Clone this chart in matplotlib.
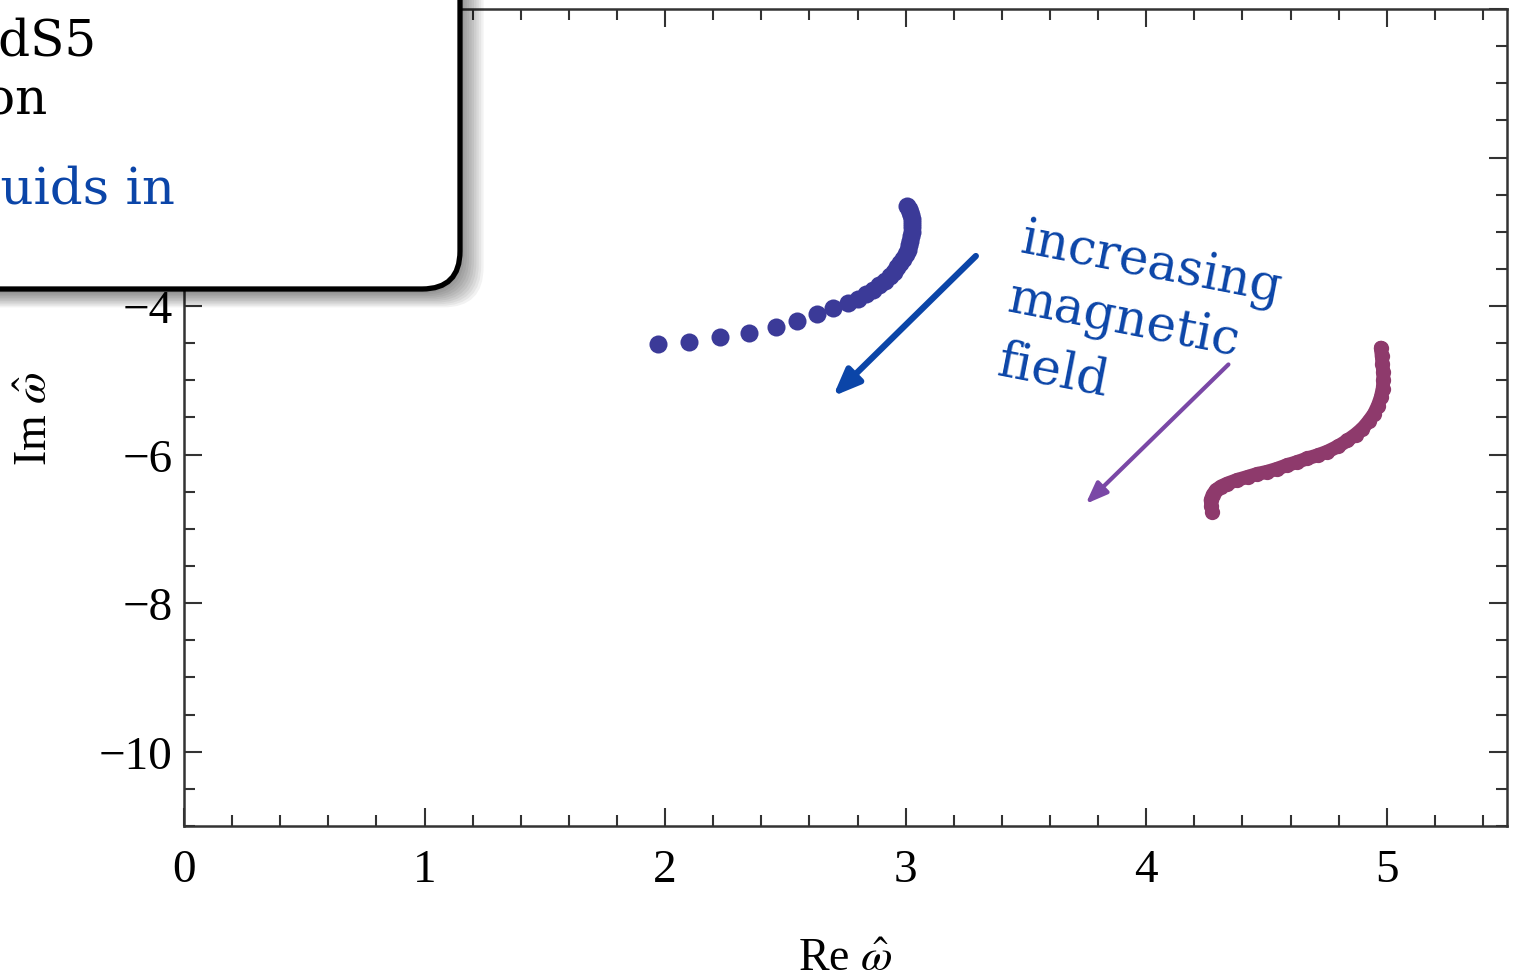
import matplotlib
matplotlib.use("Agg")
import matplotlib.pyplot as plt
from matplotlib.patches import FancyBboxPatch
from matplotlib.transforms import IdentityTransform

# modo de baixo campo (azul)
re_azul = [1.97, 2.10, 2.23, 2.35, 2.46, 2.55, 2.63, 2.70, 2.76, 2.80, 2.835,
           2.865, 2.89, 2.915, 2.935, 2.95, 2.965, 2.978, 2.99, 3.00, 3.008,
           3.015, 3.02, 3.024, 3.026, 3.027, 3.027, 3.026, 3.022, 3.017, 3.012, 3.006]
im_azul = [-4.51, -4.48, -4.42, -4.36, -4.28, -4.20, -4.11, -4.03, -3.96, -3.90, -3.84,
           -3.78, -3.72, -3.66, -3.60, -3.54, -3.48, -3.42, -3.36, -3.30, -3.24,
           -3.18, -3.12, -3.06, -3.00, -2.94, -2.88, -2.83, -2.78, -2.73, -2.69, -2.65]

# segundo modo (magenta)
re_mag = [4.975, 4.979, 4.982, 4.985, 4.986, 4.983, 4.975, 4.963, 4.947, 4.925,
          4.899, 4.870, 4.836, 4.797, 4.753, 4.712, 4.670, 4.628, 4.587, 4.545,
          4.504, 4.462, 4.421, 4.379, 4.337, 4.310, 4.289, 4.276, 4.268, 4.270, 4.275]
im_mag = [-4.56, -4.67, -4.78, -4.89, -5.00, -5.11, -5.23, -5.34, -5.45, -5.55,
          -5.65, -5.73, -5.81, -5.89, -5.96, -6.01, -6.05, -6.10, -6.14, -6.19,
          -6.23, -6.26, -6.30, -6.34, -6.39, -6.43, -6.48, -6.54, -6.61, -6.69, -6.77]

xticks = [0, 1, 2, 3, 4, 5]
yticks = [-10, -8, -6, -4, -2, 0]
# -2 e 0 ficam escondidos atrás da caixa
ylabels = ['\u221210', '\u22128', '\u22126', '\u22124', '', '']

azul = '#3b3a98'
magenta = '#8e3a6c'
texto_azul = '#0b45a8'
roxo = '#7a48a6'

plt.rcParams['mathtext.fontset'] = 'stix'
fig = plt.figure(figsize=(15.18, 9.79), dpi=100)
ax = fig.add_axes([0.1212, 0.1553, 0.8716, 0.8345])

ax.plot(re_azul, im_azul, 'o', color=azul, ms=13, mec='none')
ax.plot(re_mag, im_mag, 'o', color=magenta, ms=11, mec='none')
ax.plot(re_mag, im_mag, '-', color=magenta, lw=10, solid_capstyle='round')

ax.set_xlim(0, 5.5)
ax.set_ylim(-11, 0)
ax.set_xticks(xticks)
ax.set_yticks(yticks, ylabels)
ax.set_xticks([i * 0.2 for i in range(28)], minor=True)
ax.set_yticks([-11 + i * 0.5 for i in range(23)], minor=True)
ax.tick_params(which='both', direction='in', top=True, right=True, color='#333333', width=1.5)
ax.tick_params(which='major', length=13)
ax.tick_params(which='minor', length=8)
ax.tick_params(axis='x', pad=16)
ax.tick_params(axis='y', pad=8)
for lab in ax.get_xticklabels() + ax.get_yticklabels():
    lab.set_fontfamily('Liberation Serif')
    lab.set_fontsize(34)
for s in ax.spines.values():
    s.set_linewidth(1.8)
    s.set_color('#333333')

ax.set_xlabel(r'Re $\hat{\omega}$', fontsize=33, family='Liberation Serif')
ax.set_ylabel(r'Im $\hat{\omega}$', fontsize=33, family='Liberation Serif')
ax.xaxis.set_label_coords(0.4996, -0.137)
ax.yaxis.set_label_coords(-0.096, 0.50)

# setas e texto
ax.annotate('', xy=(2.69, -5.24), xytext=(3.30, -3.30),
            arrowprops=dict(arrowstyle='-|>,head_length=1.6,head_width=0.65', color=texto_azul, lw=4.5))
ax.annotate('', xy=(3.74, -6.69), xytext=(4.35, -4.76),
            arrowprops=dict(arrowstyle='-|>,head_length=1.3,head_width=0.5', color=roxo, lw=3))
ax.text(3.469, -3.264, 'increasing', fontsize=36, family='DejaVu Serif', color=texto_azul,
        rotation=-11, rotation_mode='anchor', ha='left', va='baseline')
ax.text(3.415, -4.067, 'magnetic', fontsize=36, family='DejaVu Serif', color=texto_azul,
        rotation=-11, rotation_mode='anchor', ha='left', va='baseline')
ax.text(3.374, -4.910, 'field', fontsize=36, family='DejaVu Serif', color=texto_azul,
        rotation=-11, rotation_mode='anchor', ha='left', va='baseline')

# caixa sobreposta no canto superior esquerdo
for i in range(10):
    sombra = FancyBboxPatch((-60 + 2 + i * 0.6, 689 - 4 - i * 1.6), 520 + i * 1.8, 400,
                            boxstyle='round,pad=0,rounding_size=40', transform=IdentityTransform(),
                            facecolor='black', edgecolor='none', alpha=0.05, zorder=1)
    fig.add_artist(sombra)
caixa = FancyBboxPatch((-60, 689), 520, 400, boxstyle='round,pad=0,rounding_size=38',
                       transform=IdentityTransform(), facecolor='white', edgecolor='black',
                       lw=3.8, zorder=2)
fig.add_artist(caixa)
fig.text(96 / 1518, 1 - 56 / 979, 'AdS5', fontsize=36, family='DejaVu Serif', ha='right', va='baseline', zorder=3)
fig.text(47 / 1518, 1 - 114 / 979, 'solution', fontsize=36, family='DejaVu Serif', ha='right', va='baseline', zorder=3)
fig.text(175 / 1518, 1 - 204 / 979, 'fluids in', fontsize=37, family='DejaVu Serif', color=texto_azul,
         ha='right', va='baseline', zorder=3)

fig.savefig('out.png', dpi=100)
